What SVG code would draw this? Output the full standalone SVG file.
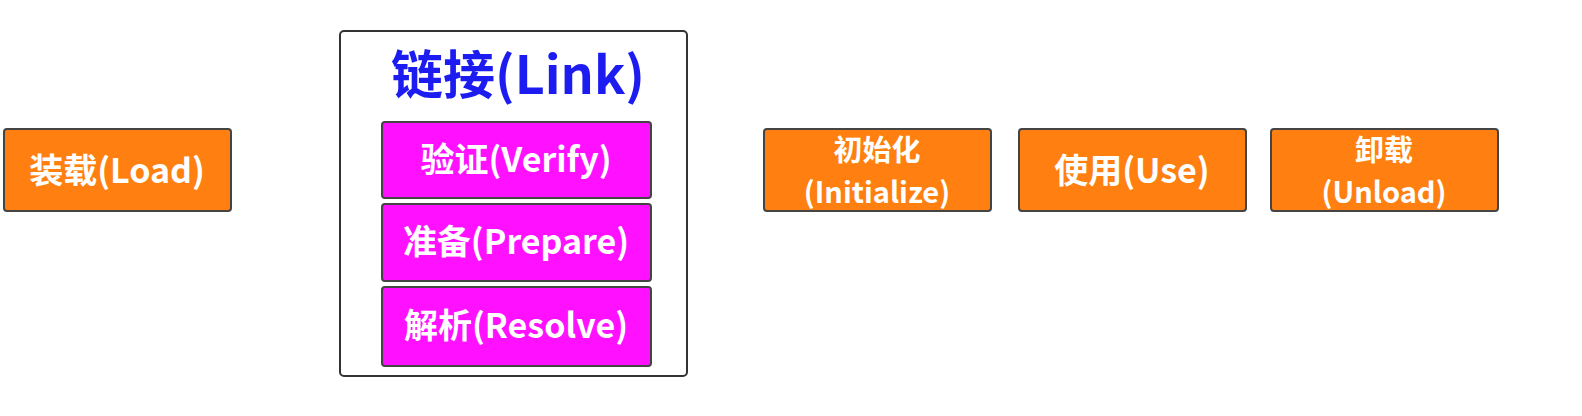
<svg xmlns="http://www.w3.org/2000/svg" width="1582" height="416" viewBox="0 0 1582 416">
<style>
.o{fill:#FF8010;stroke:#444;stroke-width:2}
.m{fill:#FF10FF;stroke:#444;stroke-width:2}
.t{font-family:"Noto Sans CJK SC",sans-serif;font-weight:bold;font-size:34px;fill:#fff;text-anchor:middle}
.s{font-size:29px}
</style>
<rect width="1582" height="416" fill="#fff"/>
<g id="load"><rect class="o" x="4" y="129" width="227" height="82" rx="3"/><text class="t" x="117" y="183">装载(Load)</text></g>
<g id="link"><rect x="340" y="31" width="347" height="345" rx="4" fill="#fff" stroke="#333" stroke-width="2"/>
<text x="518" y="94" font-family="'Noto Sans CJK SC',sans-serif" font-weight="bold" font-size="52" fill="#1c1cf0" text-anchor="middle">链接(Link)</text></g>
<g id="verify"><rect class="m" x="382" y="122" width="269" height="76" rx="3"/><text class="t" x="516" y="172">验证(Verify)</text></g>
<g id="prepare"><rect class="m" x="382" y="204" width="269" height="77" rx="3"/><text class="t" x="516" y="254">准备(Prepare)</text></g>
<g id="resolve"><rect class="m" x="382" y="287" width="269" height="79" rx="3"/><text class="t" x="516" y="338">解析(Resolve)</text></g>
<g id="init"><rect class="o" x="764" y="129" width="227" height="82" rx="3"/><text class="t s" x="877" y="161">初始化</text><text class="t s" x="877" y="203">(Initialize)</text></g>
<g id="use"><rect class="o" x="1019" y="129" width="227" height="82" rx="3"/><text class="t" x="1132" y="183">使用(Use)</text></g>
<g id="unload"><rect class="o" x="1271" y="129" width="227" height="82" rx="3"/><text class="t s" x="1384" y="161">卸载</text><text class="t s" x="1384" y="203">(Unload)</text></g>
<g id="connectors"></g>
</svg>
